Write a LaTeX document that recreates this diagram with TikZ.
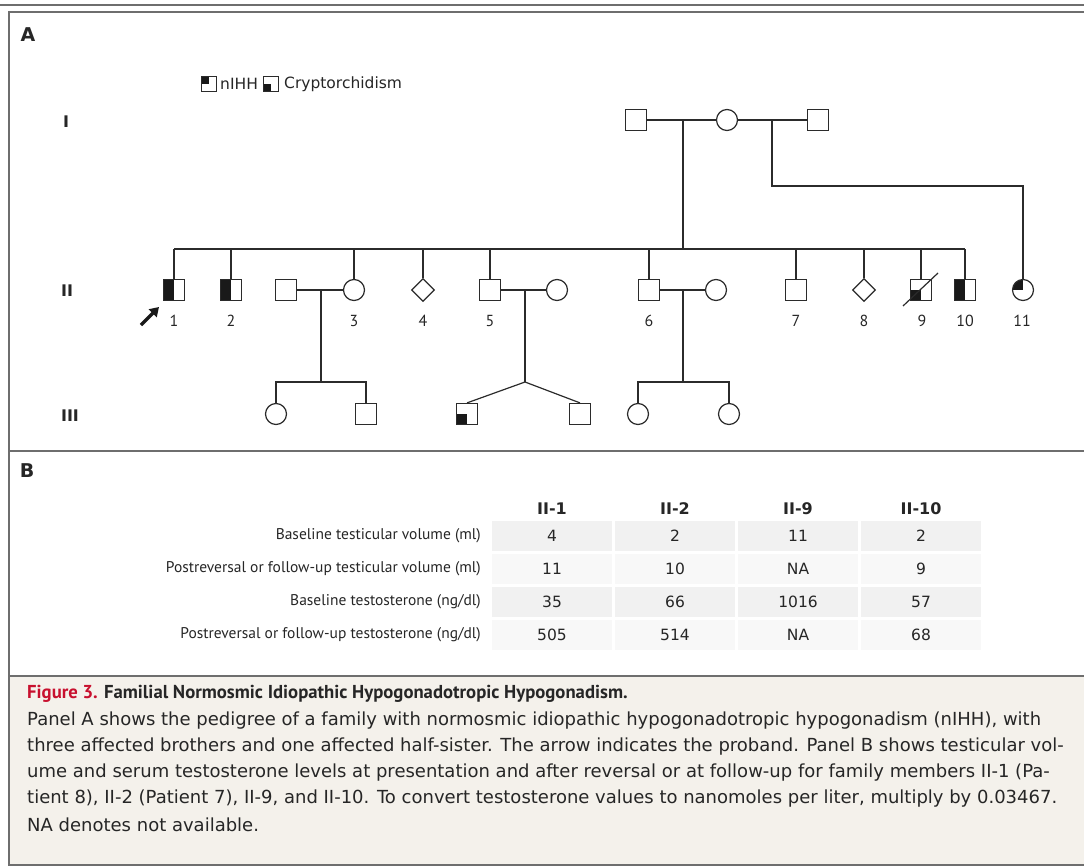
\documentclass[tikz,border=0pt]{standalone}
\usepackage{fontspec}
\setmainfont{DejaVu Sans}
\newfontfamily\narrowf{PT Sans}
\usetikzlibrary{shapes.geometric,arrows.meta,calc}
\definecolor{frame}{HTML}{6E6E6E}
\definecolor{ink}{HTML}{2B2B2B}
\definecolor{capbg}{HTML}{F4F1EB}
\definecolor{figred}{HTML}{C8102E}
\definecolor{rowA}{HTML}{F1F1F1}
\definecolor{rowB}{HTML}{F8F8F8}
\definecolor{txt}{HTML}{262626}
\begin{document}
\begin{tikzpicture}[x=1pt,y=-1pt,
  ped/.style={draw=ink,line width=1.2pt,inner sep=0pt,fill=white},
  male/.style={ped,rectangle,minimum size=21pt},
  female/.style={ped,circle,minimum size=21pt},
  unk/.style={ped,diamond,minimum size=23pt},
  lnk/.style={draw=ink,line width=1.2pt},
  lefthalf/.style={path picture={\fill[black!90] (path picture bounding box.north west) rectangle (path picture bounding box.south);}},
  tlq/.style={path picture={\fill[black!90] (path picture bounding box.north west) rectangle (path picture bounding box.center);}},
  blq/.style={path picture={\fill[black!90] (path picture bounding box.west) rectangle (path picture bounding box.south);}},
  num/.style={font=\narrowf\fontsize{16}{19}\selectfont,text=txt,inner sep=0pt},
  gen/.style={font=\bfseries\fontsize{16}{19}\selectfont,text=txt,inner sep=0pt},
  panel/.style={font=\bfseries\fontsize{19}{22}\selectfont,text=txt,inner sep=0pt},
  cellA/.style={fill=rowA,minimum width=120pt,minimum height=30pt,inner sep=0pt,font=\fontsize{15.5}{18}\selectfont,text=txt},
  cellB/.style={cellA,fill=rowB},
  hdr/.style={font=\bfseries\fontsize{16}{19}\selectfont,text=txt,inner sep=0pt},
  rowlab/.style={anchor=east,font=\narrowf\fontsize{15.5}{18}\selectfont,text=txt,inner sep=0pt},
  capline/.style={anchor=west,font=\fontsize{18}{21}\selectfont,text=txt,inner sep=0pt},
  legtxt/.style={anchor=west,inner sep=0pt,font=\fontsize{15.5}{18}\selectfont,text=txt}
]
\useasboundingbox (0,0) rectangle (1084,867);
% frame
\fill[capbg] (9,676) rectangle (1084,865);
\draw[frame,line width=2.5pt] (0,5) -- (1084,5);
\draw[frame,line width=2pt] (9,12) -- (1084,12);
\draw[frame,line width=2pt] (9,11) -- (9,866);
\draw[frame,line width=2pt] (9,451) -- (1084,451);
\draw[frame,line width=2pt] (9,676) -- (1084,676);
\draw[frame,line width=2.5pt] (8,865) -- (1084,865);

% panel labels
\node[panel] (pA) at (28,35) {A};
\node[panel] (pB) at (27,471) {B};
\node[gen] (gI) at (66,122) {I};
\node[gen] (gII) at (67,291) {II};
\node[gen] (gIII) at (70,416) {III};

% legend
\node[ped,rectangle,minimum size=15pt,tlq] (legA) at (209,84) {};
\node[legtxt] (legAt) at (220,84) {nIHH};
\node[ped,rectangle,minimum size=15pt,blq] (legB) at (271,84) {};
\node[legtxt] (legBt) at (284,84) {Cryptorchidism};

% generation I
\node[male] (I1) at (636,120) {};
\node[female] (I2) at (727,120) {};
\node[male] (I3) at (818,120) {};
\draw[lnk] (I1) -- (I2);
\draw[lnk] (I2) -- (I3);
\coordinate (m1) at (683,120);
\coordinate (s1) at (683,249);
\coordinate (m2) at (772,120);
\coordinate (h2) at (772,186);

% generation II
\node[male,lefthalf] (II1) at (174,290) {};
\node[male,lefthalf] (II2) at (231,290) {};
\node[male] (S3) at (286,290) {};
\node[female] (II3) at (354,290) {};
\node[unk] (II4) at (423,290) {};
\node[male] (II5) at (490,290) {};
\node[female] (S5) at (557,290) {};
\node[male] (II6) at (649,290) {};
\node[female] (S6) at (716,290) {};
\node[male] (II7) at (796,290) {};
\node[unk] (II8) at (864,290) {};
\node[male,blq] (II9) at (921,290) {};
\node[male,lefthalf] (II10) at (965,290) {};
\node[female,tlq] (II11) at (1023,290) {};

\coordinate (sibL) at (174,249);
\coordinate (sibR) at (965,249);
\draw[lnk] (m1) -- (s1);
\draw[lnk] (sibL) -- (sibR);
\foreach \c in {II1,II2,II3,II4,II5,II6,II7,II8,II9,II10}
  \draw[lnk] (\c.north |- sibL) -- (\c.north);
\draw[lnk] (m2) -- (h2) -| (II11.north);

\draw[lnk] ($(II9.center)+(-18,16)$) -- ($(II9.center)+(17,-17)$);

% numbers
\node[num] (n1) at (174,321) {1};
\node[num] (n2) at (231,321) {2};
\node[num] (n3) at (354,321) {3};
\node[num] (n4) at (423,321) {4};
\node[num] (n5) at (490,321) {5};
\node[num] (n6) at (649,321) {6};
\node[num] (n7) at (796,321) {7};
\node[num] (n8) at (864,321) {8};
\node[num] (n9) at (922,321) {9};
\node[num] (n10) at (965,321) {10};
\node[num] (n11) at (1022,321) {11};

% proband arrow
\coordinate (arT) at (141,325);
\coordinate (arH) at (159,307);
\draw[draw=black!90,line width=3.4pt,-{Triangle[length=9pt,width=11pt]}] (arT) -- (arH);

% marriages gen II
\draw[lnk] (S3) -- (II3);
\draw[lnk] (II5) -- (S5);
\draw[lnk] (II6) -- (S6);

% generation III
\node[female] (III1) at (276,414) {};
\node[male] (III2) at (366,414) {};
\node[male,blq] (III3) at (467,414) {};
\node[male] (III4) at (580,414) {};
\node[female] (III5) at (638,414) {};
\node[female] (III6) at (729,414) {};

\coordinate (m3) at (321,290);
\coordinate (d3) at (321,382);
\draw[lnk] (m3) -- (d3);
\draw[lnk] (III1.north) |- (d3) -| (III2.north);

\coordinate (m5) at (525,290);
\coordinate (d5) at (525,382);
\draw[lnk] (m5) -- (d5);
\draw[lnk] (III3.north) -- (d5) -- (III4.north);

\coordinate (m6) at (683,290);
\coordinate (d6) at (683,382);
\draw[lnk] (m6) -- (d6);
\draw[lnk] (III5.north) |- (d6) -| (III6.north);

% table
\node[hdr] (h1) at (552,509) {II-1};
\node[hdr] (h2) at (675,509) {II-2};
\node[hdr] (h3) at (798,509) {II-9};
\node[hdr] (h4) at (921,509) {II-10};

\node[rowlab] (r1) at (481,536) {Baseline testicular volume (ml)};
\node[rowlab] (r2) at (481,569) {Postreversal or follow-up testicular volume (ml)};
\node[rowlab] (r3) at (481,602) {Baseline testosterone (ng/dl)};
\node[rowlab] (r4) at (481,635) {Postreversal or follow-up testosterone (ng/dl)};

\node[cellA] (c11) at (552,536) {4};
\node[cellA] (c12) at (675,536) {2};
\node[cellA] (c13) at (798,536) {11};
\node[cellA] (c14) at (921,536) {2};
\node[cellB] (c21) at (552,569) {11};
\node[cellB] (c22) at (675,569) {10};
\node[cellB] (c23) at (798,569) {NA};
\node[cellB] (c24) at (921,569) {9};
\node[cellA] (c31) at (552,602) {35};
\node[cellA] (c32) at (675,602) {66};
\node[cellA] (c33) at (798,602) {1016};
\node[cellA] (c34) at (921,602) {57};
\node[cellB] (c41) at (552,635) {505};
\node[cellB] (c42) at (675,635) {514};
\node[cellB] (c43) at (798,635) {NA};
\node[cellB] (c44) at (921,635) {68};

% caption
\node[anchor=west,inner sep=0pt,font=\narrowf\bfseries\fontsize{18.7}{22}\selectfont,text=txt] (title) at (27,694)
  {\textcolor{figred}{Figure 3.} Familial Normosmic Idiopathic Hypogonadotropic Hypogonadism.};
\node[capline] (cl1) at (27,721) {Panel A shows the pedigree of a family with normosmic idiopathic hypogonadotropic hypogonadism (nIHH), with};
\node[capline] (cl2) at (27,747) {three affected brothers and one affected half-sister. The arrow indicates the proband. Panel B shows testicular vol-};
\node[capline] (cl3) at (27,773) {ume and serum testosterone levels at presentation and after reversal or at follow-up for family members II-1 (Pa-};
\node[capline] (cl4) at (27,799) {tient 8), II-2 (Patient 7), II-9, and II-10. To convert testosterone values to nanomoles per liter, multiply by 0.03467.};
\node[capline] (cl5) at (27,825) {NA denotes not available.};
\end{tikzpicture}
\end{document}
